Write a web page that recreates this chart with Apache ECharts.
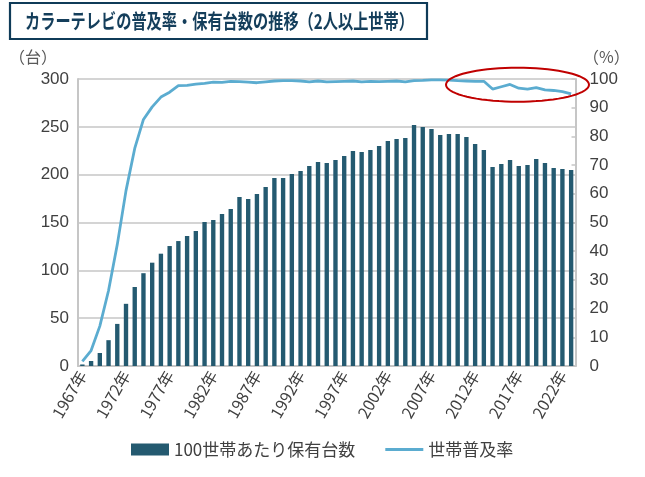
<!DOCTYPE html>
<html>
<head>
<meta charset="utf-8">
<script src="https://cdn.jsdelivr.net/npm/echarts@6/dist/echarts.min.js"></script>
<style>
html,body{margin:0;padding:0;background:#fff;}
#chart{width:645px;height:477px;}
</style>
</head>
<body>
<div id="chart"></div>
<script>
const categories = ["1967年","1968年","1969年","1970年","1971年","1972年","1973年","1974年","1975年","1976年",
"1977年","1978年","1979年","1980年","1981年","1982年","1983年","1984年","1985年","1986年",
"1987年","1988年","1989年","1990年","1991年","1992年","1993年","1994年","1995年","1996年",
"1997年","1998年","1999年","2000年","2001年","2002年","2003年","2004年","2005年","2006年",
"2007年","2008年","2009年","2010年","2011年","2012年","2013年","2014年","2015年","2016年",
"2017年","2018年","2019年","2020年","2021年","2022年","2023年"];

const unitsPer100 = [1.6,5.2,13.6,27,44,65,82.6,97,108,117.4,
125.4,130.6,135.9,141,150.5,152.6,158.9,164,176.6,174.6,
179.8,187.1,196.5,196.5,200.7,203.8,209,213.2,212.2,215.3,
219.5,224.7,223.7,225.8,230,235.2,237.3,238.3,251.9,249.8,
247.7,241.5,242.5,242.5,239.4,232,225.8,208,211.1,215.3,
209,210.1,216.4,212.2,207,205.9,204.9];

const diffusionRate = [1.6,5.4,13.9,26.3,42.3,61.1,75.8,85.9,90.3,93.7,
95.4,97.7,97.8,98.2,98.5,98.9,98.8,99.2,99.1,98.9,
98.7,99.0,99.3,99.4,99.4,99.3,99.0,99.3,99.0,99.1,
99.2,99.3,99.0,99.2,99.1,99.2,99.3,99.0,99.4,99.5,
99.7,99.7,99.6,99.4,99.3,99.2,99.2,96.5,97.3,98.1,
96.8,96.5,97.0,96.2,96.0,95.6,94.8];

const leftTicks = {min:0, max:300, interval:50};
const rightTicks = {min:0, max:100, interval:10};

const titleText = "カラーテレビの普及率・保有台数の推移（2人以上世帯）";
const barName = "100世帯あたり保有台数";
const lineName = "世帯普及率";

const FONT = '"Liberation Sans","Noto Sans CJK JP",Arial,sans-serif';
const JPFONT = '"Noto Sans CJK JP","Liberation Sans",sans-serif';
const gridColor = '#C6C6C6';
const textColor = '#404040';
const barColor = '#245A70';
const lineColor = '#5BACD0';

// ellipse outline (annotation)
const ell = [];
for (let i = 0; i < 72; i++) {
  const a = i / 72 * Math.PI * 2;
  ell.push([517.5 + 71.5 * Math.cos(a), 84.7 + 17 * Math.sin(a)]);
}

const chart = echarts.init(document.getElementById('chart'), null, {renderer:'canvas'});
chart.setOption({
  animation:false,
  backgroundColor:'#fff',
  grid:{left:78, right:69.5, top:79, bottom:111, containLabel:false},
  legend:{
    left:126, top:436,
    itemGap:30,
    itemWidth:38, itemHeight:12,
    symbolKeepAspect:true,
    textStyle:{fontSize:17, color:textColor, fontFamily:JPFONT},
    data:[
      {name:barName, icon:'rect'},
      {name:lineName, icon:'path://M0,0H38V3H0Z', itemStyle:{color:lineColor}}
    ]
  },
  xAxis:{
    type:'category',
    data:categories,
    boundaryGap:true,
    axisLine:{show:true, lineStyle:{color:gridColor, width:2}},
    axisTick:{show:false},
    axisLabel:{interval:4, rotate:60, fontSize:16, color:textColor, fontFamily:JPFONT, margin:6}
  },
  yAxis:[
    {
      type:'value', min:leftTicks.min, max:leftTicks.max, interval:leftTicks.interval,
      axisLine:{show:true, lineStyle:{color:gridColor, width:2}},
      axisTick:{show:false},
      axisLabel:{fontSize:17, color:textColor, fontFamily:FONT, margin:9},
      splitLine:{show:true, lineStyle:{color:gridColor, width:1.5}}
    },
    {
      type:'value', min:rightTicks.min, max:rightTicks.max, interval:rightTicks.interval,
      position:'right',
      axisLine:{show:true, lineStyle:{color:gridColor, width:2}},
      axisTick:{show:true, inside:true, length:4, lineStyle:{color:gridColor, width:1.5}},
      axisLabel:{fontSize:17, color:textColor, fontFamily:FONT, margin:14},
      splitLine:{show:false}
    }
  ],
  series:[
    {
      name:barName, type:'bar', yAxisIndex:0, data:unitsPer100,
      barWidth:'50%',
      itemStyle:{color:barColor}
    },
    {
      name:lineName, type:'line', yAxisIndex:1, data:diffusionRate,
      symbol:'none', smooth:false,
      lineStyle:{color:lineColor, width:2.8},
      itemStyle:{color:lineColor}
    }
  ],
  graphic:[
    {type:'rect', shape:{x:10, y:3, width:417, height:36},
     style:{fill:'#fff', stroke:'#0F3B58', lineWidth:2.2}},
    {type:'text', x:25, y:21, scaleX:0.76,
     style:{text:titleText, fontSize:20, fontWeight:'bold', fontFamily:JPFONT,
            fill:'#143E5B', textVerticalAlign:'middle', verticalAlign:'middle'}},
    {type:'text', x:9, y:57,
     style:{text:'（台）', fontSize:16, fontFamily:JPFONT, fill:'#595959',
            textVerticalAlign:'middle', verticalAlign:'middle'}},
    {type:'text', x:583, y:57,
     style:{text:'（%）', fontSize:16, fontFamily:JPFONT, fill:'#595959',
            textVerticalAlign:'middle', verticalAlign:'middle'}},
    {type:'polygon', shape:{points:ell}, z:100,
     style:{fill:'none', stroke:'#C00000', lineWidth:2}}
  ]
});
</script>
</body>
</html>
